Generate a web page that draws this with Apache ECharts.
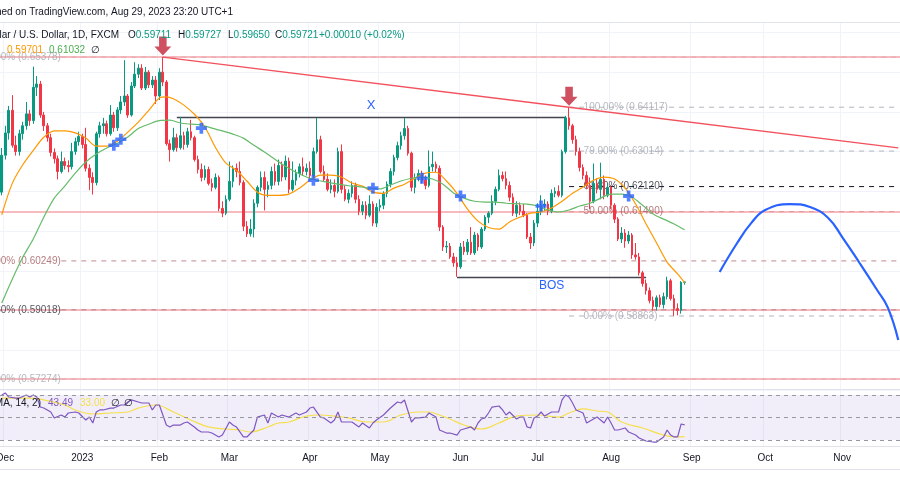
<!DOCTYPE html>
<html><head><meta charset="utf-8">
<script src="https://cdn.jsdelivr.net/npm/echarts/dist/echarts.min.js"></script>
<style>html,body{margin:0;padding:0;background:#fff}#c{width:900px;height:500px}</style>
</head><body><div id="c"></div>
<script>
// ---------- categories (daily bars, weekdays) ----------
const firstBarDate = '2022-11-30';
const categoryCount = 257;
const monthNames = ['Jan','Feb','Mar','Apr','May','Jun','Jul','Aug','Sep','Oct','Nov','Dec'];
function weekdays(start, n){const out=[];const d=new Date(start+'T00:00:00Z');while(out.length<n){const w=d.getUTCDay();if(w!==0&&w!==6)out.push(d.toISOString().slice(0,10));d.setUTCDate(d.getUTCDate()+1);}return out;}
const dates = weekdays(firstBarDate, categoryCount);

// ---------- NZD/USD daily OHLC (30 Nov 2022 .. 30 Aug 2023) ----------
const open = [
.6198,.6291,.6347,.6404,.6316,.6300,.6345,.6365,.6395,.6378,
.6462,.6470,.6392,.6365,.6335,.6298,.6282,.6250,.6275,.6265,
.6262,.6300,.6325,.6338,.6318,.6258,.6235,.6222,.6345,.6365,
.6370,.6345,.6392,.6360,.6405,.6425,.6440,.6392,.6465,.6495,
.6510,.6460,.6500,.6468,.6480,.6440,.6500,.6475,.6320,.6305,
.6335,.6310,.6340,.6318,.6350,.6335,.6280,.6255,.6235,.6255,
.6220,.6210,.6235,.6157,.6145,.6180,.6225,.6258,.6250,.6222,
.6112,.6093,.6105,.6170,.6210,.6235,.6205,.6215,.6250,.6225,
.6265,.6236,.6276,.6205,.6228,.6245,.6262,.6250,.6258,.6240,
.6300,.6330,.6250,.6230,.6205,.6215,.6200,.6300,.6205,.6180,
.6195,.6215,.6180,.6150,.6165,.6140,.6168,.6120,.6160,.6165,
.6195,.6218,.6250,.6285,.6315,.6340,.6358,.6296,.6210,.6235,
.6245,.6228,.6215,.6262,.6268,.6258,.6110,.6060,.6062,.6035,
.6020,.6010,.6060,.6048,.6072,.6045,.6090,.6060,.6105,.6135,
.6145,.6175,.6205,.6240,.6232,.6215,.6185,.6145,.6165,.6150,
.6140,.6085,.6070,.6120,.6150,.6165,.6168,.6150,.6195,.6200,
.6190,.6300,.6385,.6365,.6330,.6300,.6260,.6240,.6215,.6175,
.6220,.6205,.6230,.6190,.6210,.6165,.6130,.6080,.6095,.6075,
.6090,.6040,.6035,.5995,.5968,.5950,.5925,.5910,.5932,.5915,
.5935,.5975,.5930,.5905,.5900,.59711];
const close = [
.6291,.6347,.6404,.6316,.6300,.6345,.6365,.6395,.6378,.6462,
.6470,.6392,.6365,.6335,.6298,.6282,.6250,.6275,.6265,.6262,
.6300,.6325,.6338,.6318,.6258,.6235,.6222,.6345,.6365,.6370,
.6345,.6392,.6360,.6405,.6425,.6440,.6392,.6465,.6495,.6510,
.6460,.6500,.6468,.6480,.6440,.6500,.6475,.6320,.6305,.6335,
.6310,.6340,.6318,.6350,.6335,.6280,.6255,.6235,.6255,.6220,
.6210,.6235,.6157,.6145,.6180,.6225,.6258,.6250,.6222,.6112,
.6093,.6105,.6170,.6210,.6235,.6205,.6215,.6250,.6225,.6265,
.6236,.6276,.6205,.6228,.6245,.6262,.6250,.6258,.6240,.6300,
.6330,.6250,.6230,.6205,.6215,.6200,.6300,.6205,.6180,.6195,
.6215,.6180,.6150,.6165,.6140,.6168,.6120,.6160,.6165,.6195,
.6218,.6250,.6285,.6315,.6340,.6358,.6296,.6210,.6235,.6245,
.6228,.6215,.6262,.6268,.6258,.6110,.6060,.6062,.6035,.6020,
.6010,.6060,.6048,.6072,.6045,.6090,.6060,.6105,.6135,.6145,
.6175,.6205,.6240,.6232,.6215,.6185,.6145,.6165,.6150,.6140,
.6085,.6070,.6120,.6150,.6165,.6168,.6150,.6195,.6200,.6190,
.6300,.6385,.6365,.6330,.6300,.6260,.6240,.6215,.6175,.6220,
.6205,.6230,.6190,.6210,.6165,.6130,.6080,.6095,.6075,.6090,
.6040,.6035,.5995,.5968,.5950,.5925,.5910,.5932,.5915,.5935,
.5975,.5930,.5905,.5900,.5971,.59721];
const low = [
.6190,.6280,.6330,.6310,.6290,.6290,.6330,.6355,.6365,.6370,
.6440,.6385,.6352,.6325,.6288,.6270,.6230,.6245,.6255,.6248,
.6255,.6292,.6315,.6308,.6250,.6203,.6192,.6215,.6335,.6345,
.6338,.6340,.6350,.6352,.6395,.6415,.6385,.6388,.6460,.6485,
.6455,.6455,.6460,.6460,.6420,.6430,.6465,.6315,.6275,.6300,
.6300,.6305,.6305,.6310,.6328,.6275,.6245,.6225,.6228,.6215,
.6200,.6205,.6150,.6135,.6140,.6175,.6210,.6235,.6215,.6100,
.6085,.6086,.6084,.6160,.6200,.6152,.6185,.6205,.6215,.6215,
.6225,.6228,.6195,.6200,.6215,.6235,.6240,.6240,.6230,.6235,
.6295,.6245,.6225,.6200,.6195,.6185,.6195,.6195,.6175,.6170,
.6185,.6170,.6140,.6140,.6130,.6135,.6112,.6110,.6150,.6155,
.6185,.6210,.6240,.6278,.6305,.6330,.6290,.6200,.6195,.6225,
.6220,.6205,.6210,.6250,.6248,.6100,.6050,.6045,.6030,.6010,
.5985,.6005,.6040,.6040,.6040,.6040,.6050,.6055,.6100,.6120,
.6140,.6165,.6200,.6225,.6205,.6175,.6138,.6135,.6140,.6135,
.6080,.6055,.6062,.6110,.6140,.6150,.6140,.6145,.6185,.6185,
.6185,.6295,.6355,.6320,.6290,.6250,.6230,.6205,.6155,.6170,
.6195,.6180,.6180,.6185,.6155,.6120,.6075,.6070,.6058,.6068,
.6030,.6028,.5988,.5960,.5940,.5918,.5900,.5900,.5908,.5905,
.5928,.5925,.58863,.5888,.5892,.59650];
const high = [
.6309,.6365,.6415,.6442,.6340,.6355,.6375,.6425,.6405,.6514,
.6490,.6478,.6400,.6372,.6345,.6308,.6290,.6300,.6285,.6278,
.6322,.6335,.6350,.6345,.6360,.6268,.6248,.6350,.6375,.6385,
.6378,.6417,.6400,.6412,.6440,.6530,.6445,.6475,.6525,.6520,
.6520,.6513,.6505,.6490,.6490,.6510,.65378,.6480,.6330,.6360,
.6345,.6387,.6350,.6360,.6380,.6340,.6290,.6270,.6265,.6262,
.6232,.6245,.6240,.6175,.6190,.6275,.6265,.6270,.6275,.6228,
.6125,.6130,.6180,.6215,.6250,.6250,.6225,.6262,.6270,.6280,
.6275,.6290,.6285,.6275,.6255,.6270,.6285,.6270,.6275,.6310,
.6385,.6340,.6265,.6245,.6230,.6230,.6310,.6318,.6215,.6205,
.6225,.6222,.6190,.6175,.6175,.6190,.6175,.6170,.6180,.6200,
.6225,.6258,.6292,.6325,.6350,.6385,.6365,.6300,.6245,.6255,
.6252,.6240,.6303,.6300,.6275,.6265,.6115,.6075,.6070,.6045,
.6035,.6070,.6075,.6080,.6110,.6098,.6095,.6110,.6140,.6150,
.6190,.6212,.6255,.6250,.6250,.6225,.6195,.6175,.6172,.6168,
.6145,.6095,.6128,.6170,.6190,.6180,.6175,.6205,.6210,.6215,
.6305,.6390,.64117,.6370,.6340,.6310,.6268,.6250,.6235,.6270,
.6232,.6272,.6240,.6220,.6215,.6170,.6135,.6110,.6105,.6100,
.6095,.6070,.6045,.6000,.5978,.5958,.5935,.5938,.5940,.5945,
.5985,.5980,.5940,.5918,.5974,.59727];

// moving averages: [bar index, value]
const maFast = [[0,.6141],[3,.6220],[6,.6267],[9,.6303],[12,.6336],[15,.6352],[18,.6352],[21,.6347],[24,.6334],[27,.6314],[30,.6314],[33,.6326],[36,.6349],[39,.6374],[42,.6404],[45,.6435],[47,.6438],[49,.6433],[52,.6417],[55,.6394],[58,.6362],[61,.6311],[64,.6271],[67,.6253],[70,.6226],[73,.6198],[76,.6190],[79,.6190],[82,.6193],[85,.6208],[88,.6228],[91,.6241],[94,.6241],[97,.6236],[100,.6221],[103,.6213],[106,.6198],[109,.6195],[112,.6208],[115,.6218],[118,.6233],[121,.6246],[124,.6248],[127,.6226],[130,.6195],[133,.6155],[136,.6125],[139,.6109],[142,.6105],[145,.6123],[148,.6135],[151,.6145],[154,.6148],[157,.6158],[160,.6175],[163,.6195],[166,.6211],[169,.6228],[172,.6236],[175,.6231],[178,.6208],[181,.6168],[184,.6118],[187,.6070],[190,.6022],[193,.5992],[195,.59701]];
const maSlow = [[0,.5919],[3,.5979],[6,.6034],[9,.6080],[12,.6135],[15,.6183],[18,.6213],[21,.6246],[24,.6274],[27,.6294],[30,.6309],[33,.6321],[36,.6337],[39,.6358],[42,.6369],[45,.6378],[48,.6379],[51,.6372],[54,.6369],[57,.6367],[60,.6359],[63,.6352],[66,.6344],[69,.6334],[72,.6316],[75,.6299],[78,.6281],[81,.6263],[84,.6248],[87,.6236],[90,.6228],[93,.6223],[96,.6218],[99,.6214],[102,.6212],[105,.6208],[108,.6206],[111,.6216],[114,.6226],[117,.6233],[120,.6236],[123,.6231],[126,.6218],[129,.6196],[132,.6183],[135,.6175],[138,.6173],[141,.6173],[144,.6170],[147,.6169],[150,.6168],[153,.6163],[156,.6153],[159,.6148],[162,.6153],[165,.6163],[168,.6170],[171,.6183],[174,.6193],[177,.6193],[180,.6185],[183,.6165],[186,.6143],[189,.6130],[192,.6118],[195,.61032]];

// RSI pane
const rsi = [[0,70],[1,71.8],[2,68.2],[4,67.3],[5,67.3],[7,70],[8,68.2],[9,70],[10,68.2],[11,59.3],[12,58.4],[14,54.9],[15,49.6],[17,52.2],[18,50.4],[19,54],[21,54.9],[22,54],[24,47.8],[25,50.4],[26,45.1],[27,54.9],[28,56.7],[29,56.7],[31,58.4],[32,58.4],[34,61.1],[35,61.1],[36,63.8],[37,65.6],[39,63.8],[40,62.9],[42,62.9],[43,56.7],[44,61.1],[45,61.1],[47,43.3],[48,41.6],[49,43.3],[51,43.3],[52,45.1],[53,46],[55,41.6],[56,38.9],[57,37.1],[59,37.1],[60,36.2],[62,32.7],[63,34.4],[65,46],[66,43.3],[67,41.6],[69,32.7],[70,32.7],[72,38.9],[73,50.4],[75,52.2],[76,45.1],[77,54],[79,50.4],[80,52.2],[82,50.4],[84,54],[85,52.2],[87,54.9],[88,58.4],[89,59.3],[91,50.4],[92,49.6],[94,45.1],[95,47.8],[96,54.9],[97,46],[99,46],[100,46],[102,41.6],[103,45.1],[105,40.7],[106,45.1],[107,47.8],[109,52.2],[111,58.4],[113,63.8],[114,62.9],[115,65.6],[117,46],[118,49.6],[119,49.6],[121,50.4],[122,54],[124,50.4],[125,38.9],[127,36.2],[128,36.2],[130,34.4],[131,38.9],[132,39.8],[134,41.6],[135,38.9],[136,45.1],[137,48.7],[138,49.6],[139,54],[140,59.3],[142,60.2],[143,56.7],[144,52.2],[145,54.9],[147,48.7],[148,50.4],[149,50.4],[150,41.6],[151,40.7],[152,49.6],[153,51.3],[154,54.9],[155,51.3],[157,54.9],[159,54.9],[160,65.6],[161,70],[162,68.2],[163,62.9],[164,56.7],[166,54],[167,45.1],[169,48.7],[170,50.4],[171,47.8],[172,45.1],[173,50.4],[174,45.1],[175,38.9],[176,38.9],[178,40.7],[179,37.1],[181,34.4],[182,31.8],[184,29.1],[186,28.2],[187,28.2],[189,32.7],[190,38.9],[191,34.4],[192,32.7],[193,32.7],[194,44.2],[195,43.49]];
const rsiMa = [[0,67.3],[8,67.3],[12,65.6],[18,61.1],[21,56.7],[26,53.1],[31,54],[36,54.9],[39,58.4],[44,61.1],[49,54.9],[54,47.8],[59,41.6],[64,39.8],[68,38.9],[71,37.1],[76,41.6],[79,45.1],[82,46],[87,51.3],[91,52.2],[95,51.3],[99,49.6],[104,46],[109,46],[114,52.2],[119,54.9],[122,54.9],[125,52.2],[128,48.7],[132,43.3],[137,39.8],[142,45.1],[147,51.3],[153,52.2],[159,50.4],[162,54],[166,57.6],[170,55.8],[173,54.9],[177,46],[183,40.7],[189,34.4],[193,32.7],[195,33.0]];
const rsiBands = [70, 50, 30];

// drawings
const horizontalLines = [0.65378, 0.61490, 0.59010, 0.57274];
const trendAnchors = [[46, 0.65378], [162, 0.64117]];
const xLine = {from: 50, to: 161, price: 0.6387, text: 'X'};
const bosLine = {from: 130, to: 184, price: 0.5984, text: 'BOS'};
const fibRight = {from: 162, labelAt: 166, levels: ['100.00%','79.00%','61.80%','50.00%','0.00%'], prices: [0.64117,0.63014,0.62120,0.61490,0.58863]};
const fibLeft = {from: 17, levels: ['100.00%','50.00%','61.80%','0.00%'], prices: [0.65378,0.60249,0.59018,0.57274]};
const crosses = [[32,.6316],[34,.6331],[57,.6359],[89,.6228],[106,.6208],[120,.6233],[131,.6188],[154,.6163],[179,.6188]];
const arrows = [[46, 0.65378], [162, 0.64117]];
const projection = [[205,.5997],[210,.6070],[214,.6120],[218,.6153],[225,.6168],[231,.6160],[236,.6133],[240,.6085],[245,.6019],[250,.5951],[253,.5908],[256,.5826]];

// ---------- build ----------
const FONT = "'Liberation Sans', Arial, sans-serif";
const UP = '#089981', DOWN = '#f23645', BLUE = '#2962ff', PINK = '#f5a3a9';
const candles = open.map((o, k) => [o, close[k], low[k], high[k]]);
const lastIdx = categoryCount - 1;
const isMonthStart = (idx) => idx > 0 && dates[idx].slice(5,7) !== dates[idx-1].slice(5,7);
const fmtMonth = (v) => { const m = +v.slice(5,7); return m === 1 ? v.slice(0,4) : monthNames[m-1]; };

const slope = (trendAnchors[1][1]-trendAnchors[0][1])/(trendAnchors[1][0]-trendAnchors[0][0]);
const trendData = trendAnchors.concat([[lastIdx, trendAnchors[1][1] + slope*(lastIdx - trendAnchors[1][0])]]);

const fibColor = {'100.00%':'#a3a6af','79.00%':'#a3a6af','61.80%':'#2a2e39','50.00%':'#a35a5e','0.00%':'#a3a6af'};
const fibLineColor = {'100.00%':'#b2b5be','79.00%':'#b2b5be','61.80%':'#131722','50.00%':'#b56a6e','0.00%':'#b2b5be'};
const fibFmt = (lv, p) => lv + ' (' + p.toFixed(5) + ')';

const series = [];
// fib lines
fibRight.levels.forEach((lv, k) => series.push({type:'line', xAxisIndex:0, yAxisIndex:0, silent:true, symbol:'none', z:1,
  data:[[fibRight.from, fibRight.prices[k]],[lastIdx, fibRight.prices[k]]], lineStyle:{color:fibLineColor[lv], width:1, type:[5,5]}}));
fibLeft.levels.forEach((lv, k) => series.push({type:'line', xAxisIndex:0, yAxisIndex:0, silent:true, symbol:'none', z:1,
  data:[[fibLeft.from, fibLeft.prices[k]],[lastIdx, fibLeft.prices[k]]], lineStyle:{color: lv==='50.00%'?'#c08a8d':fibLineColor[lv], width:1, type:[5,5]}}));

series.push({
  type:'candlestick', xAxisIndex:0, yAxisIndex:0, z:3, barWidth:2.2, data:candles,
  itemStyle:{color:UP, color0:DOWN, borderColor:UP, borderColor0:DOWN, borderWidth:1},
  markLine:{silent:true, symbol:['none','none'], animation:false, precision:5, z:2,
    data: horizontalLines.map(p => ({yAxis:p, lineStyle:{color:PINK, width:1.6, type:'solid'}, label:{show:false}})).concat([
      [{coord:[xLine.from, xLine.price], lineStyle:{color:'#434651', width:1.4, type:'solid'},
        label:{show:true, formatter:xLine.text, position:'middle', color:BLUE, fontSize:13, fontFamily:FONT, backgroundColor:'#ffffff', padding:[0,5]}},
       {coord:[xLine.to, xLine.price]}],
      [{coord:[bosLine.from, bosLine.price], lineStyle:{color:'#434651', width:1.4, type:'solid'},
        label:{show:true, formatter:bosLine.text, position:'insideMiddleBottom', distance:3, color:BLUE, fontSize:12, fontFamily:FONT}},
       {coord:[bosLine.to, bosLine.price]}]
    ])}
});
series.push({type:'line', xAxisIndex:0, yAxisIndex:0, data:maFast, smooth:0.3, symbol:'none', silent:true, z:4, lineStyle:{color:'#ff9800', width:1.2}});
series.push({type:'line', xAxisIndex:0, yAxisIndex:0, data:maSlow, smooth:0.3, symbol:'none', silent:true, z:4, lineStyle:{color:'#66bb6a', width:1.2}});
series.push({type:'line', xAxisIndex:0, yAxisIndex:0, data:trendData, symbol:'none', silent:true, z:4, lineStyle:{color:'#f2525e', width:1.4}});
series.push({type:'line', xAxisIndex:0, yAxisIndex:0, data:projection, smooth:0.45, symbol:'none', silent:true, z:5, lineStyle:{color:BLUE, width:2.2}});
// fib labels
series.push({type:'scatter', xAxisIndex:0, yAxisIndex:0, silent:true, z:2, symbolSize:1, itemStyle:{color:'transparent'},
  data: fibRight.levels.map((lv,k)=>({value:[fibRight.labelAt, fibRight.prices[k]],
    label:{show:true, position:'right', distance:0, formatter:fibFmt(lv, fibRight.prices[k]), color:fibColor[lv], fontSize:10, fontFamily:FONT}}))
   .concat(fibLeft.levels.map((lv,k)=>({value:[fibLeft.from, fibLeft.prices[k]],
    label:{show:true, position:'left', distance:0, formatter:fibFmt(lv, fibLeft.prices[k]), color:fibColor[lv], fontSize:10, fontFamily:FONT}})))});
series.push({type:'scatter', xAxisIndex:0, yAxisIndex:0, silent:true, z:6, data:crosses,
  symbol:'path://M4,0H8V4H12V8H8V12H4V8H0V4H4Z', symbolSize:11, itemStyle:{color:BLUE}});
series.push({type:'scatter', xAxisIndex:0, yAxisIndex:0, silent:true, z:7, data:arrows,
  symbol:'path://M5,0H13V10H18L9,19L0,10H5Z', symbolSize:[17,19], symbolKeepAspect:false, symbolOffset:[0,-11], itemStyle:{color:'#c3263a'}});
// RSI
series.push({type:'line', xAxisIndex:1, yAxisIndex:1, data:rsiMa, smooth:0.4, symbol:'none', silent:true, z:3, lineStyle:{color:'#f5df4d', width:1.2}});
series.push({type:'line', xAxisIndex:1, yAxisIndex:1, data:rsi, symbol:'none', silent:true, z:4, lineStyle:{color:'#7e57c2', width:1.2},
  markArea:{silent:true, itemStyle:{color:'rgba(126,87,194,0.1)'}, data:[[{yAxis:rsiBands[2]},{yAxis:rsiBands[0]}]]},
  markLine:{silent:true, symbol:['none','none'], precision:2, label:{show:false}, lineStyle:{color:'#9598a1', width:1, type:[4,4]},
    data: rsiBands.map(v=>({yAxis:v}))}});

const sep = (y) => ({type:'line', z:50, shape:{x1:0, y1:y, x2:900, y2:y}, style:{stroke:'#e0e3eb', lineWidth:1}});
const txt = (x, y, text, fill, align, size) => ({type:'text', z:100, x, y, style:{text, fill, align:align||'left', verticalAlign:'middle', fontSize:size||10, fontFamily:FONT}});
const ohlcGroup = (x, letter, value) => ({type:'text', z:100, x, y:35, style:{text:'{d|'+letter+'}{g|'+value+'}', verticalAlign:'middle', fontSize:10, fontFamily:FONT,
  rich:{d:{fill:'#131722', fontSize:10, fontFamily:FONT}, g:{fill:UP, fontSize:10, fontFamily:FONT}}}});

const option = {
  animation:false,
  backgroundColor:'#ffffff',
  textStyle:{fontFamily:FONT},
  grid:[{left:0, right:0, top:22, height:368, containLabel:false, outerBoundsMode:'none'},
        {left:0, right:0, top:389, height:58, containLabel:false, outerBoundsMode:'none'}],
  xAxis:[
    {type:'category', gridIndex:0, data:dates, boundaryGap:true, axisLine:{show:false}, axisTick:{show:false}, axisLabel:{show:false},
     splitLine:{show:true, interval:(i)=>isMonthStart(i), lineStyle:{color:'#f0f3fa', width:1}}},
    {type:'category', gridIndex:1, data:dates, boundaryGap:true, axisLine:{show:false}, axisTick:{show:false},
     axisLabel:{show:true, interval:(i)=>isMonthStart(i), formatter:fmtMonth, color:'#131722', fontSize:10, margin:6, fontFamily:FONT},
     splitLine:{show:true, interval:(i)=>isMonthStart(i), lineStyle:{color:'#f0f3fa', width:1}}}
  ],
  yAxis:[
    {type:'value', gridIndex:0, min:0.57, max:0.66262, interval:0.01, axisLine:{show:false}, axisTick:{show:false}, axisLabel:{show:false},
     splitLine:{show:true, lineStyle:{color:'#f0f3fa'}}},
    {type:'value', gridIndex:1, min:23.78, max:75.33, axisLine:{show:false}, axisTick:{show:false}, axisLabel:{show:false}, splitLine:{show:false}}
  ],
  series,
  graphic:[
    sep(22.5), sep(389.5), sep(446.5), sep(469.5),
    txt(233, 12.5, 'Published on TradingView.com, Aug 29, 2023 23:20 UTC+1', '#131722', 'right'),
    txt(119, 35, 'New Zealand Dollar / U.S. Dollar, 1D, FXCM', '#131722', 'right'),
    ohlcGroup(128, 'O', '0.59711'), ohlcGroup(178, 'H', '0.59727'), ohlcGroup(228, 'L', '0.59650'), ohlcGroup(275, 'C', '0.59721'),
    txt(319, 35, '+0.00010 (+0.02%)', UP),
    txt(7, 50, '0.59701', '#ff9800'), txt(49, 50, '0.61032', '#4caf50'), txt(91, 50, '∅', '#131722'),
    txt(41, 403, 'RSI (close, 14, SMA, 14, 2)', '#131722', 'right'),
    txt(48, 403, '43.49', '#7e57c2'), txt(80, 403, '33.00', '#f5df4d'), txt(111, 403, '∅', '#131722'), txt(124, 403, '∅', '#131722')
  ]
};
echarts.init(document.getElementById('c'), null, {renderer:'canvas'}).setOption(option);
</script></body></html>
